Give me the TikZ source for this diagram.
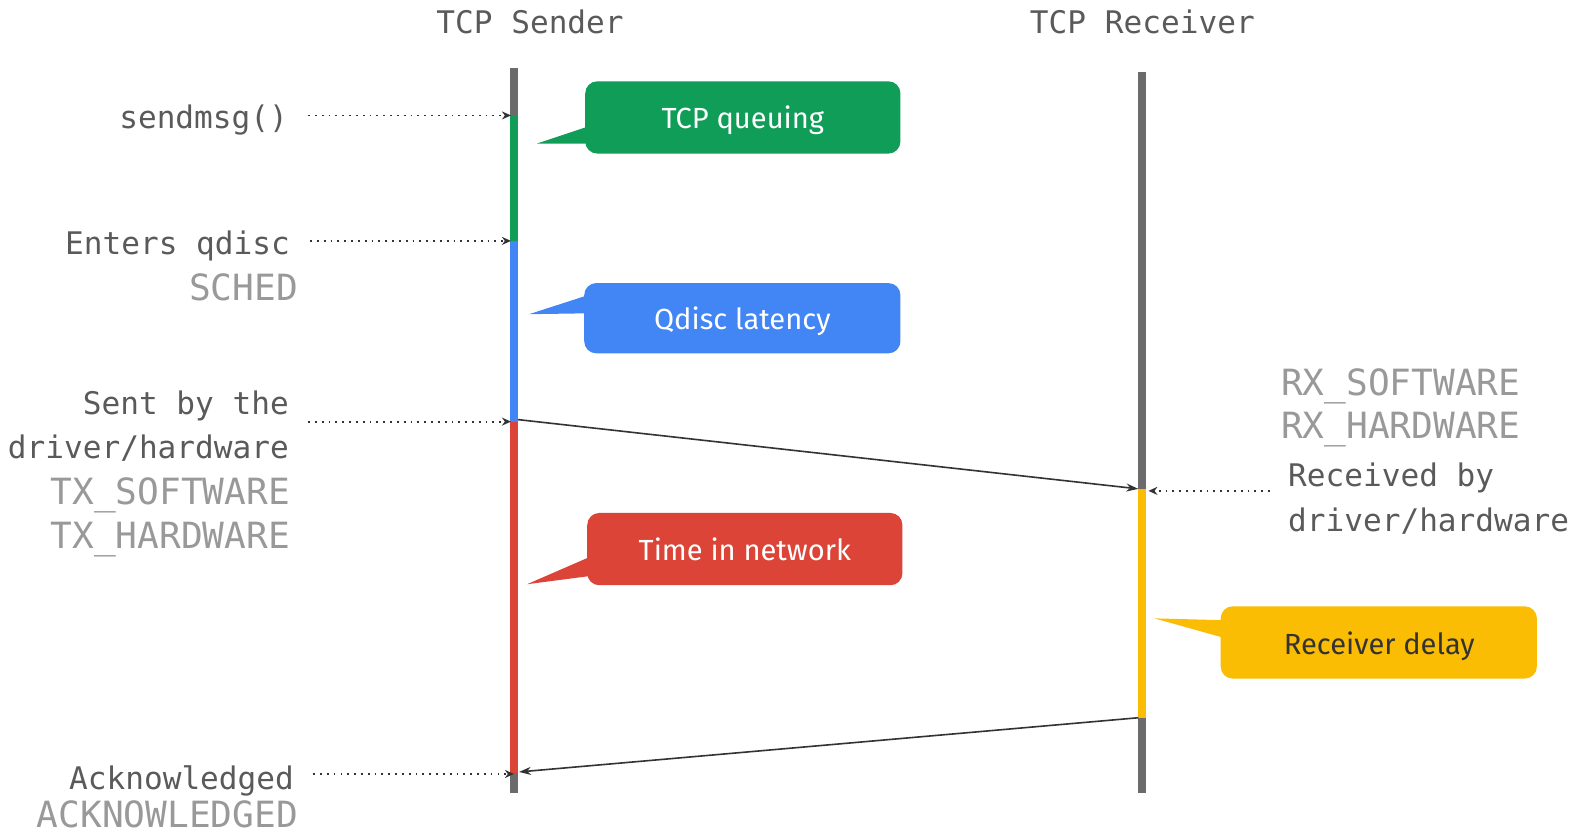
\documentclass[tikz,border=0pt]{standalone}
\usepackage{fontspec}
\setmainfont{Fira Sans}
\newfontfamily\monof{DejaVu Sans Mono}
\usetikzlibrary{arrows.meta}
\definecolor{cgreen}{HTML}{0F9D58}
\definecolor{cblue}{HTML}{4285F4}
\definecolor{cred}{HTML}{DB4437}
\definecolor{cyellow}{HTML}{FBBC04}
\definecolor{cline}{HTML}{6B6B6B}
\definecolor{tdark}{HTML}{5A5A5A}
\definecolor{tgray}{HTML}{999999}
\definecolor{cconn}{HTML}{333333}
\begin{document}
\begin{tikzpicture}[x=1pt,y=-1pt,
  lab/.style={font=\monof\fontsize{31}{31}\selectfont, text=tdark, inner sep=0pt},
  glab/.style={font=\monof\fontsize{36}{36}\selectfont, text=tgray, inner sep=0pt},
  life/.style={line width=8pt, line cap=butt},
  callout/.style={rounded corners=12pt, inner sep=0pt, text depth=0pt, font=\fontsize{29}{29}\selectfont, text=white},
  dotarrow/.style={cconn, line width=1.8pt, dash pattern=on 1.8pt off 5pt, -{Stealth[length=9pt,width=8pt]}},
  msg/.style={cconn, line width=1.6pt, -{Stealth[length=12pt,width=8pt]}}
]
\useasboundingbox (0,0) rectangle (1568,830);

% titles
\node[lab, anchor=base] (ts) at (528,33) {TCP Sender};
\node[lab, anchor=base] (tr) at (1138,33) {TCP Receiver};

% lifeline coordinates
\coordinate (s0) at (512,68);
\coordinate (s1) at (512,115);
\coordinate (s2) at (512,240);
\coordinate (s3) at (512,420);
\coordinate (s4) at (512,770);
\coordinate (s5) at (512,790);
\coordinate (r0) at (1138,72);
\coordinate (r1) at (1138,487);
\coordinate (r2) at (1138,715);
\coordinate (r3) at (1138,790);

\draw[life, cline] (s0) -- (s1);
\draw[life, cgreen] (s1) -- (s2);
\draw[life, cblue] (s2) -- (s3);
\draw[life, cred] (s3) -- (s4);
\draw[life, cline] (s4) -- (s5);
\draw[life, cline] (r0) -- (r1);
\draw[life, cyellow] (r1) -- (r2);
\draw[life, cline] (r2) -- (r3);

% left labels
\node[lab, anchor=base east] (l1) at (287,128) {sendmsg()};
\node[lab, anchor=base east] (l2) at (289,254) {Enters qdisc};
\node[glab, anchor=base east] (l2b) at (297,299) {SCHED};
\node[lab, anchor=base east] (l3a) at (288,413) {Sent by the};
\node[lab, anchor=base east] (l3b) at (288,457) {driver/hardware};
\node[glab, anchor=base east] (l3c) at (289,503) {TX\_SOFTWARE};
\node[glab, anchor=base east] (l3d) at (289,546) {TX\_HARDWARE};
\node[lab, anchor=base east] (l4) at (293,786) {Acknowledged};
\node[glab, anchor=base east] (l4b) at (297,824) {ACKNOWLEDGED};

% right labels
\node[glab, anchor=base west] (rg1) at (1276,394) {RX\_SOFTWARE};
\node[glab, anchor=base west] (rg2) at (1276,437) {RX\_HARDWARE};
\node[lab, anchor=base west] (rl1) at (1283,485) {Received by};
\node[lab, anchor=base west] (rl2) at (1283,529) {driver/hardware};

% dotted connectors
\coordinate (d1) at (307,115);
\coordinate (d2) at (309,240);
\coordinate (d3) at (307,420);
\coordinate (d4) at (312,771);
\coordinate (d5) at (1265,489);
\coordinate (e1) at (509,115);
\coordinate (e2) at (509,240);
\coordinate (e3) at (509,420);
\coordinate (e4) at (512,771);
\coordinate (e5) at (1144,489);
\draw[dotarrow] (d1) -- (e1);
\draw[dotarrow] (d2) -- (e2);
\draw[dotarrow] (d3) -- (e3);
\draw[dotarrow] (d4) -- (e4);
\draw[dotarrow] (d5) -- (e5);

% messages
\coordinate (m1a) at (516,418);
\coordinate (m1b) at (1134,487);
\coordinate (m2a) at (1134,715);
\coordinate (m2b) at (517,769);
\draw[msg] (m1a) -- (m1b);
\draw[msg] (m2a) -- (m2b);

% callouts
\fill[cgreen] (592,124) -- (535,143) -- (592,143) -- cycle;
\node[callout, fill=cgreen, minimum width=314pt, minimum height=72pt] (c1) at (740,117) {};
\node[callout, text=white, anchor=base] (c1t) at (740,128) {TCP queuing};
\fill[cblue] (592,292) -- (527,313) -- (592,312) -- cycle;
\node[callout, fill=cblue, minimum width=315pt, minimum height=70pt] (c2) at (739.5,317) {};
\node[callout, text=white, anchor=base] (c2t) at (739.5,328) {Qdisc latency};
\fill[cred] (594,552) -- (525,582) -- (594,573) -- cycle;
\node[callout, fill=cred, minimum width=314pt, minimum height=72pt] (c3) at (742,547) {};
\node[callout, text=white, anchor=base] (c3t) at (742,558) {Time in network};
\fill[cyellow] (1225,618) -- (1150,616) -- (1225,637) -- cycle;
\node[callout, fill=cyellow, minimum width=315pt, minimum height=72pt] (c4) at (1373.5,640) {};
\node[callout, text=cconn, anchor=base] (c4t) at (1374,652) {Receiver delay};
\end{tikzpicture}
\end{document}
